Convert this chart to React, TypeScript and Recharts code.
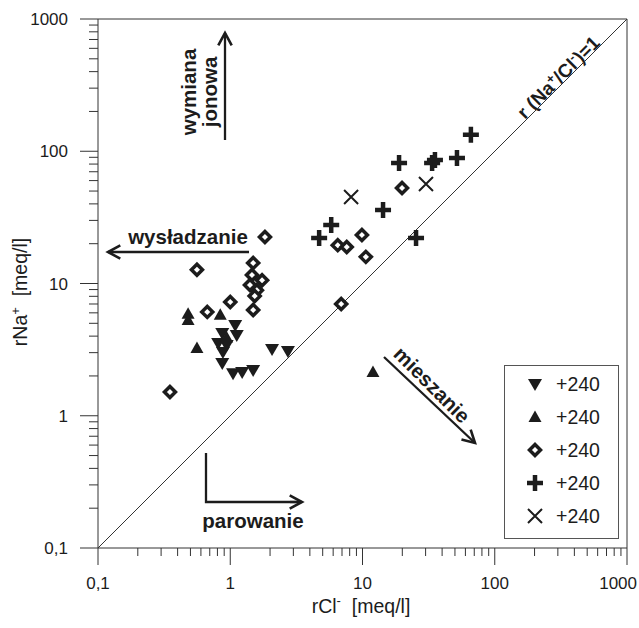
import React from 'react';
import { ScatterChart, Scatter, XAxis, YAxis, ReferenceLine, Legend, Customized } from 'recharts';

const FONT = '"Liberation Sans", Arial, Helvetica, sans-serif';
const INK = '#1c1c1c';
const AXIS = '#333';

const MAJOR_TICKS = [0.1, 1, 10, 100, 1000];
const TICK_LABELS = ['0,1', '1', '10', '100', '1000'];
const MINOR_STEPS = [2, 3, 4, 5, 6, 7, 8, 9];

// values (rCl, rNa in meq/l)
const downX = [1.09, 0.87, 1.12, 0.81, 0.94, 0.88, 0.87, 1.05, 1.23, 1.49, 2.07, 2.73];
const downY = [4.86, 4.23, 4.08, 3.55, 3.43, 3.03, 2.51, 2.1, 2.14, 2.22, 3.2, 3.09];
const upX = [0.48, 0.48, 0.56, 0.84, 0.94, 12.0];
const upY = [5.9, 5.3, 3.25, 5.8, 3.9, 2.14];
const diamondX = [1.83, 0.56, 1.49, 1.46, 1.74, 1.41, 1.59, 1.53, 1.0, 0.67, 1.49, 0.35, 19.9, 9.9, 6.5, 7.6, 10.6, 6.9];
const diamondY = [22.5, 12.7, 14.3, 11.6, 10.6, 9.75, 8.9, 8.05, 7.25, 6.1, 6.3, 1.51, 52.8, 23.3, 19.5, 18.9, 15.9, 7.0];
const plusX = [4.7, 5.8, 14.3, 18.9, 33.6, 35.3, 51.8, 66, 25.4];
const plusY = [22.1, 27.7, 36, 81.5, 81.5, 85.9, 88.9, 133, 22.1];
const crossX = [8.2, 30.2];
const crossY = [45.1, 56.5];
const seriesNames = ['+240', '+240', '+240', '+240', '+240'];

const zip = (xs: number[], ys: number[]) => xs.map((x, i) => ({ x, y: ys[i] }));

const allTicks = MAJOR_TICKS.flatMap((m) => (m === 1000 ? [m] : [m, ...MINOR_STEPS.map((s) => m * s)]));

type P = { cx?: number; cy?: number };

const DownTri = ({ cx = 0, cy = 0 }: P) => (
  <path d={`M${cx - 7},${cy - 5}L${cx + 7},${cy - 5}L${cx},${cy + 7}Z`} fill={INK} />
);
const UpTri = ({ cx = 0, cy = 0 }: P) => (
  <path d={`M${cx - 6.5},${cy + 5}L${cx + 6.5},${cy + 5}L${cx},${cy - 6.5}Z`} fill={INK} />
);
const Diamond = ({ cx = 0, cy = 0 }: P) => (
  <path
    d={`M${cx},${cy - 5.5}L${cx + 5.5},${cy}L${cx},${cy + 5.5}L${cx - 5.5},${cy}Z`}
    fill="#fff"
    stroke={INK}
    strokeWidth={3.5}
  />
);
const Plus = ({ cx = 0, cy = 0 }: P) => (
  <path d={`M${cx - 8},${cy}H${cx + 8}M${cx},${cy - 8}V${cy + 8}`} stroke={INK} strokeWidth={4.5} />
);
const Cross = ({ cx = 0, cy = 0 }: P) => (
  <path d={`M${cx - 7},${cy - 7}L${cx + 7},${cy + 7}M${cx + 7},${cy - 7}L${cx - 7},${cy + 7}`} stroke={INK} strokeWidth={2} />
);

const SERIES = [
  { name: seriesNames[0], data: zip(downX, downY), Shape: DownTri },
  { name: seriesNames[1], data: zip(upX, upY), Shape: UpTri },
  { name: seriesNames[2], data: zip(diamondX, diamondY), Shape: Diamond },
  { name: seriesNames[3], data: zip(plusX, plusY), Shape: Plus },
  { name: seriesNames[4], data: zip(crossX, crossY), Shape: Cross },
];

const XTick = (props: any) => {
  const { x, y, payload } = props;
  const idx = MAJOR_TICKS.indexOf(payload.value);
  const major = idx >= 0;
  const last = idx === MAJOR_TICKS.length - 1;
  return (
    <g>
      <line x1={x} x2={x} y1={y} y2={y + (major ? 17 : 8)} stroke={AXIS} />
      {major && (
        <text x={last ? x + 10 : x} y={y + 41} textAnchor={last ? 'end' : 'middle'} fontSize={17} fill={INK} fontFamily={FONT}>
          {TICK_LABELS[idx]}
        </text>
      )}
    </g>
  );
};

const YTick = (props: any) => {
  const { x, y, payload } = props;
  const idx = MAJOR_TICKS.indexOf(payload.value);
  const major = idx >= 0;
  return (
    <g>
      <line x1={x - (major ? 18 : 9)} x2={x} y1={y} y2={y} stroke={AXIS} />
      {major && (
        <text x={x - 30} y={y + 6} textAnchor="end" fontSize={17} fill={INK} fontFamily={FONT}>
          {TICK_LABELS[idx]}
        </text>
      )}
    </g>
  );
};

function Arrow({ x1, y1, x2, y2 }: { x1: number; y1: number; x2: number; y2: number }) {
  const a = Math.atan2(y2 - y1, x2 - x1);
  const L = 14;
  const w = 0.5;
  const p1 = [x2 - L * Math.cos(a - w), y2 - L * Math.sin(a - w)];
  const p2 = [x2 - L * Math.cos(a + w), y2 - L * Math.sin(a + w)];
  return (
    <g stroke={INK} strokeWidth={2.3} fill="none">
      <line x1={x1} y1={y1} x2={x2} y2={y2} />
      <polyline points={`${p1[0]},${p1[1]} ${x2},${y2} ${p2[0]},${p2[1]}`} strokeWidth={2.6} />
    </g>
  );
}

function Annotations() {
  const bold = { fontFamily: FONT, fontWeight: 'bold' as const, fontSize: 20.5, fill: INK };
  return (
    <g>
      <text transform="translate(563,82) rotate(-45)" textAnchor="middle" {...bold} fontSize={19}>
        r (Na<tspan dy={-7} fontSize={13}>+</tspan>
        <tspan dy={7}>/Cl</tspan>
        <tspan dy={-7} fontSize={13}>-</tspan>
        <tspan dy={7}>)=1</tspan>
      </text>

      <text transform="translate(196,92) rotate(-90)" textAnchor="middle" {...bold}>wymiana</text>
      <text transform="translate(217,92) rotate(-90)" textAnchor="middle" {...bold}>jonowa</text>
      <Arrow x1={225} y1={140} x2={225} y2={33} />

      <text x={188} y={244} textAnchor="middle" {...bold}>wysładzanie</text>
      <Arrow x1={249} y1={252} x2={108} y2={252} />

      <text transform="translate(427,390) rotate(45)" textAnchor="middle" {...bold}>mieszanie</text>
      <Arrow x1={384} y1={357} x2={475} y2={443} />

      <path d="M206,453V502H300" stroke={INK} strokeWidth={2.3} fill="none" />
      <Arrow x1={290} y1={502} x2={302} y2={502} />
      <text x={253} y={528} textAnchor="middle" {...bold}>parowanie</text>

      <text transform="translate(27,292) rotate(-90)" textAnchor="middle" fontSize={19.5} fill={INK} fontFamily={FONT}>
        rNa<tspan dy={-7} fontSize={13}>+</tspan>
        <tspan dy={7}>{'\u00a0\u00a0[meq/l]'}</tspan>
      </text>
      <text x={361} y={613} textAnchor="middle" fontSize={19.5} fill={INK} fontFamily={FONT}>
        rCl<tspan dy={-8} fontSize={13}>-</tspan>
        <tspan dy={8}>{'\u00a0\u00a0[meq/l]'}</tspan>
      </text>
    </g>
  );
}

const renderLegend = () => (
  <div
    style={{
      width: 115,
      height: 174,
      border: '1px solid #555',
      boxSizing: 'border-box',
      background: '#fff',
      position: 'relative',
      fontFamily: FONT,
    }}
  >
    {SERIES.map((s, i) => (
      <div key={i} style={{ position: 'absolute', left: 0, top: 6 + i * 33, height: 24, width: '100%' }}>
        <svg width={24} height={24} style={{ position: 'absolute', left: 18, top: 0 }}>
          <s.Shape cx={12} cy={12} />
        </svg>
        <span style={{ position: 'absolute', left: 51, top: 0, lineHeight: '24px', fontSize: 19.5, color: INK }}>
          {s.name}
        </span>
      </div>
    ))}
  </div>
);

export default function App() {
  return (
    <div style={{ position: 'absolute', left: 0, top: 0, background: '#fff' }}>
      <ScatterChart width={639} height={628} margin={{ top: 19, right: 12, bottom: 0, left: 0 }} style={{ fontFamily: FONT }}>
        <XAxis
          type="number"
          dataKey="x"
          scale="log"
          domain={[0.1, 1000]}
          allowDataOverflow
          ticks={allTicks}
          interval={0}
          tick={<XTick />}
          tickLine={false}
          tickSize={0}
          tickMargin={0}
          axisLine={{ stroke: AXIS }}
          height={80}
        />
        <YAxis
          type="number"
          dataKey="y"
          scale="log"
          domain={[0.1, 1000]}
          allowDataOverflow
          ticks={allTicks}
          interval={0}
          tick={<YTick />}
          tickLine={false}
          tickSize={0}
          tickMargin={0}
          axisLine={{ stroke: AXIS }}
          width={98}
        />
        <ReferenceLine y={1000} stroke={AXIS} />
        <ReferenceLine x={1000} stroke={AXIS} />
        <ReferenceLine
          segment={[
            { x: 0.1, y: 0.1 },
            { x: 1000, y: 1000 },
          ]}
          stroke={AXIS}
          strokeWidth={1}
        />
        {SERIES.map((s, i) => (
          <Scatter
            key={i}
            name={s.name}
            data={s.data}
            shape={(p: any) => <s.Shape cx={p.cx} cy={p.cy} />}
            isAnimationActive={false}
          />
        ))}
        <Legend
          layout="horizontal"
          verticalAlign="middle"
          align="center"
          content={renderLegend}
          wrapperStyle={{ left: 504, top: 365, width: 115, height: 174 }}
        />
        <Customized component={<Annotations />} />
      </ScatterChart>
    </div>
  );
}
